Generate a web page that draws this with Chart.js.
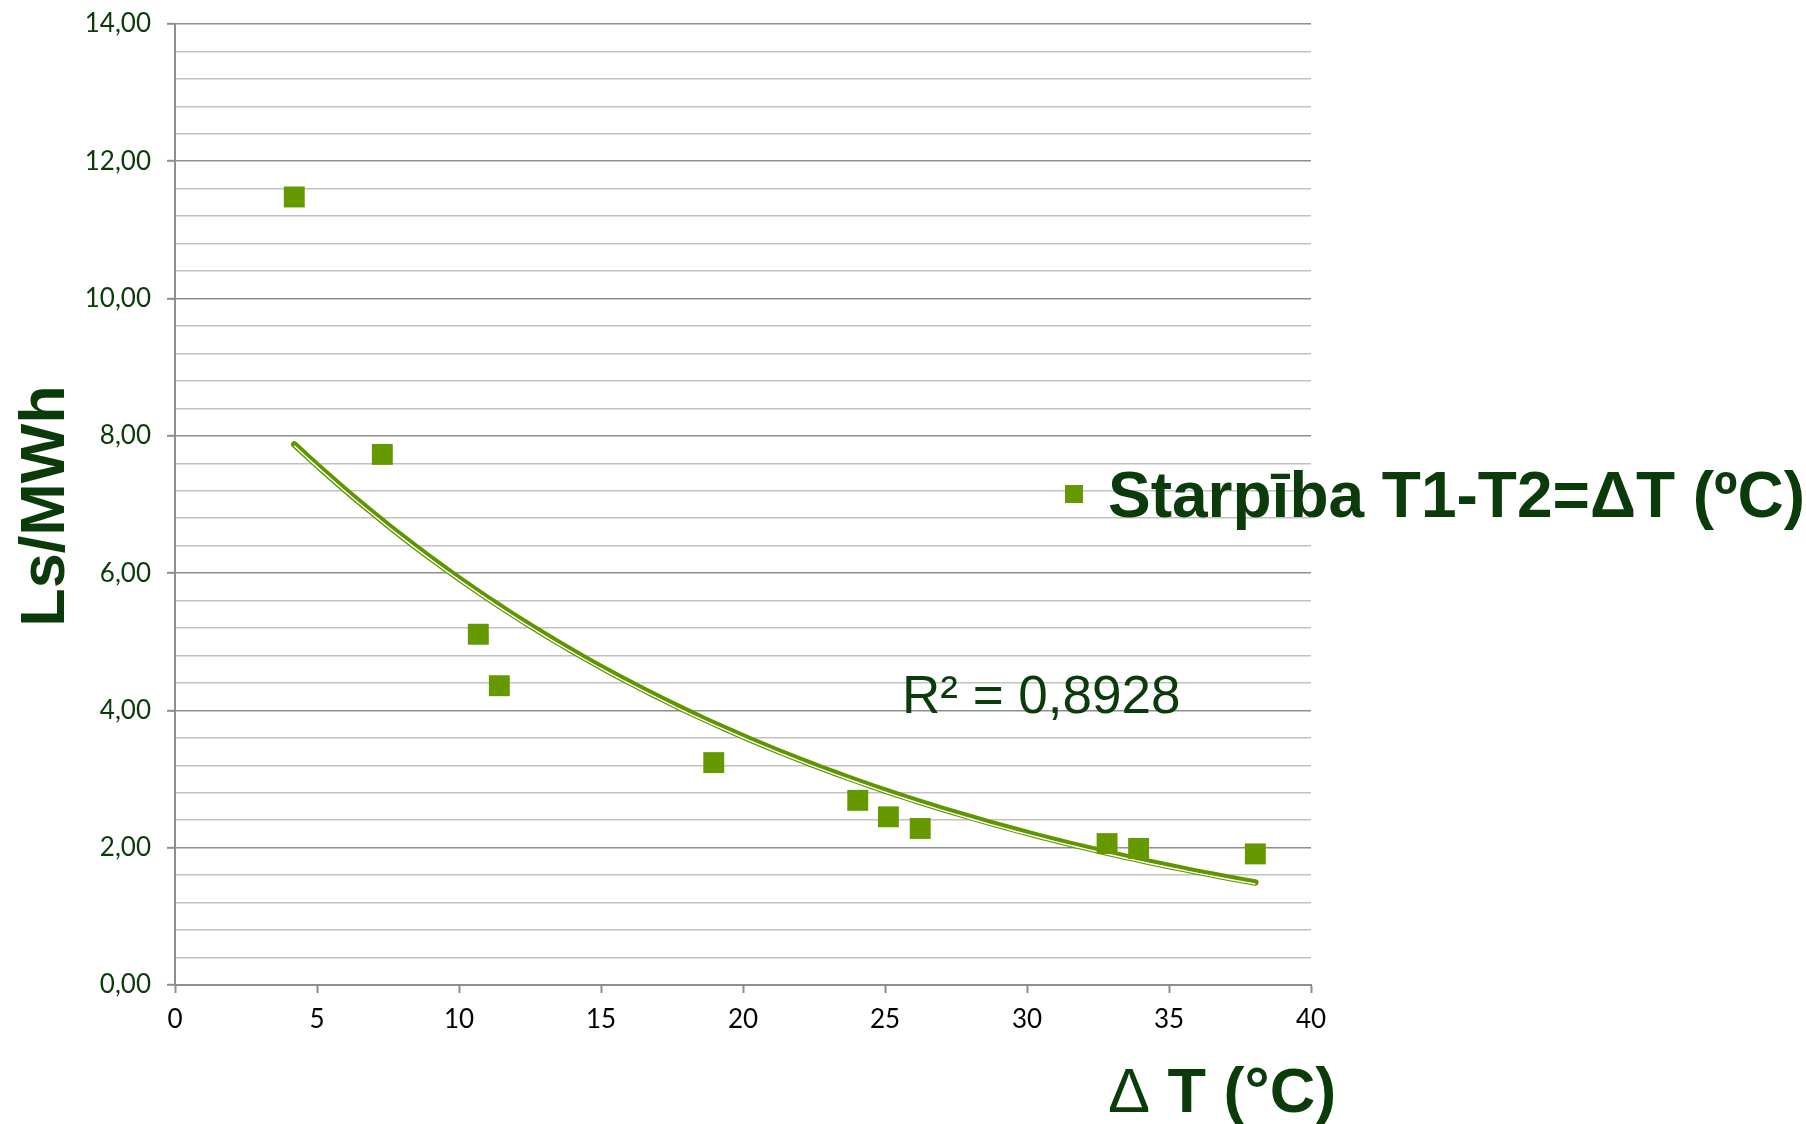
<!DOCTYPE html>
<html>
<head>
<meta charset="utf-8">
<script src="https://cdn.jsdelivr.net/npm/chart.js@4.4.1/dist/chart.umd.min.js"></script>
<style>
  html, body { margin: 0; padding: 0; background: #fff; }
  #wrap { width: 1806px; height: 1124px; }
</style>
</head>
<body>
<div id="wrap"><canvas id="chart" width="1806" height="1124"></canvas></div>
<script>
'use strict'

// values
const deltaT   = [4.20, 7.30, 10.68, 11.42, 18.97, 24.04, 25.12, 26.24, 32.82, 33.93, 38.04];
const lsPerMWh = [11.48, 7.73, 5.11, 4.36, 3.24, 2.69, 2.45, 2.28, 2.06, 1.99, 1.91];
const seriesLabel = 'Starpība T1-T2=ΔT (ºC)';
const rSquaredText = 'R² = 0,8928';
const xTitleSymbol = 'Δ';
const xTitleRest = ' T (°C)';
const yTitle = 'Ls/MWh';

const green = '#669900';
const darkGreen = '#0b3b0b';
const majorGrid = '#8c8f8c';
const minorGrid = '#c2c2c2';

// exponential trendline (least squares on ln y), like the spreadsheet does
function expTrend(xs, ys) {
  const n = xs.length;
  const ly = ys.map(Math.log);
  const mx = xs.reduce((a, b) => a + b, 0) / n;
  const my = ly.reduce((a, b) => a + b, 0) / n;
  let sxy = 0, sxx = 0;
  for (let i = 0; i < n; i++) {
    sxy += (xs[i] - mx) * (ly[i] - my);
    sxx += (xs[i] - mx) * (xs[i] - mx);
  }
  const b = sxy / sxx;
  const a = Math.exp(my - b * mx);
  return x => a * Math.exp(b * x);
}

const fit = expTrend(deltaT, lsPerMWh);
const xMin = Math.min(...deltaT), xMax = Math.max(...deltaT);
const trendPts = [];
for (let i = 0; i <= 80; i++) {
  const x = xMin + (xMax - xMin) * i / 80;
  trendPts.push({ x: x, y: fit(x) });
}

const points = deltaT.map((x, i) => ({ x: x, y: lsPerMWh[i] }));

const isMajor = v => Math.abs(v / 2 - Math.round(v / 2)) < 1e-6;

// white inner stroke of the trendline sits a bit low
const shiftInner = {
  id: 'shiftInner',
  beforeDatasetDraw(chart, args) {
    if (args.index === 1) { chart.ctx.save(); chart.ctx.translate(0, 1.5); }
  },
  afterDatasetDraw(chart, args) {
    if (args.index === 1) chart.ctx.restore();
  }
};

const texts = {
  id: 'texts',
  afterDraw(chart) {
    const ctx = chart.ctx;
    ctx.save();
    ctx.fillStyle = darkGreen;
    ctx.textBaseline = 'alphabetic';

    // y title
    ctx.save();
    ctx.translate(64, 506);
    ctx.rotate(-Math.PI / 2);
    ctx.textAlign = 'center';
    ctx.font = 'bold 63px "Liberation Sans", Arial, sans-serif';
    ctx.fillText(yTitle, 0, 0);
    ctx.restore();

    // x title
    ctx.textAlign = 'left';
    ctx.font = '63px "Liberation Sans", Arial, sans-serif';
    ctx.fillText(xTitleSymbol, 1108, 1112);
    const w = ctx.measureText(xTitleSymbol).width;
    ctx.font = 'bold 63px "Liberation Sans", Arial, sans-serif';
    ctx.fillText(xTitleRest, 1108 + w, 1112);

    // R squared
    ctx.font = '53px "Liberation Sans", Arial, sans-serif';
    ctx.fillText(rSquaredText, 902, 713);

    // legend
    ctx.fillStyle = green;
    ctx.fillRect(1065, 485, 18, 18);
    ctx.fillStyle = darkGreen;
    ctx.font = 'bold 64px "Liberation Sans", Arial, sans-serif';
    ctx.fillText(seriesLabel, 1108, 517);
    ctx.restore();
  }
};

new Chart(document.getElementById('chart'), {
  type: 'scatter',
  data: {
    datasets: [
      {
        label: seriesLabel,
        data: points,
        pointStyle: 'rect',
        pointRadius: 14.8,
        pointHoverRadius: 14.8,
        backgroundColor: green,
        borderColor: green,
        borderWidth: 0,
        order: 0
      },
      {
        label: 'trend inner',
        data: trendPts,
        showLine: true,
        pointRadius: 0,
        borderColor: '#ffffff',
        borderWidth: 1.4,
        order: 1
      },
      {
        label: 'trend',
        data: trendPts,
        showLine: true,
        pointRadius: 0,
        borderColor: '#5f9600',
        borderWidth: 6.5,
        borderCapStyle: 'round',
        order: 2
      }
    ]
  },
  options: {
    responsive: false,
    animation: false,
    devicePixelRatio: 1,
    layout: { padding: { top: 24, right: 495, bottom: 0, left: 0 } },
    plugins: {
      legend: { display: false },
      tooltip: { enabled: false }
    },
    scales: {
      x: {
        type: 'linear',
        min: 0,
        max: 40,
        afterFit: s => { s.height = 139; s.paddingLeft = 0; s.paddingRight = 0; },
        ticks: {
          stepSize: 5,
          padding: 11,
          color: '#000000',
          font: { family: 'Lato, "Open Sans", sans-serif', size: 26 }
        },
        grid: {
          drawOnChartArea: false,
          drawTicks: true,
          tickLength: 8,
          tickColor: majorGrid,
          tickWidth: 2
        },
        border: { color: majorGrid, width: 2 }
      },
      y: {
        type: 'linear',
        min: 0,
        max: 14,
        afterFit: s => { s.width = 175; s.paddingTop = 0; s.paddingBottom = 0; },
        ticks: {
          stepSize: 0.4,
          autoSkip: false,
          padding: 16,
          color: darkGreen,
          font: { family: 'Lato, "Open Sans", sans-serif', size: 26 },
          callback: v => isMajor(v) ? v.toFixed(2).replace('.', ',') : ''
        },
        grid: {
          color: c => (c.tick && isMajor(c.tick.value)) ? majorGrid : minorGrid,
          lineWidth: 1.6,
          tickLength: 8,
          tickColor: c => (c.tick && isMajor(c.tick.value)) ? majorGrid : 'rgba(0,0,0,0)',
          tickWidth: 2
        },
        border: { color: majorGrid, width: 2 }
      }
    }
  },
  plugins: [shiftInner, texts]
});
</script>
</body>
</html>
